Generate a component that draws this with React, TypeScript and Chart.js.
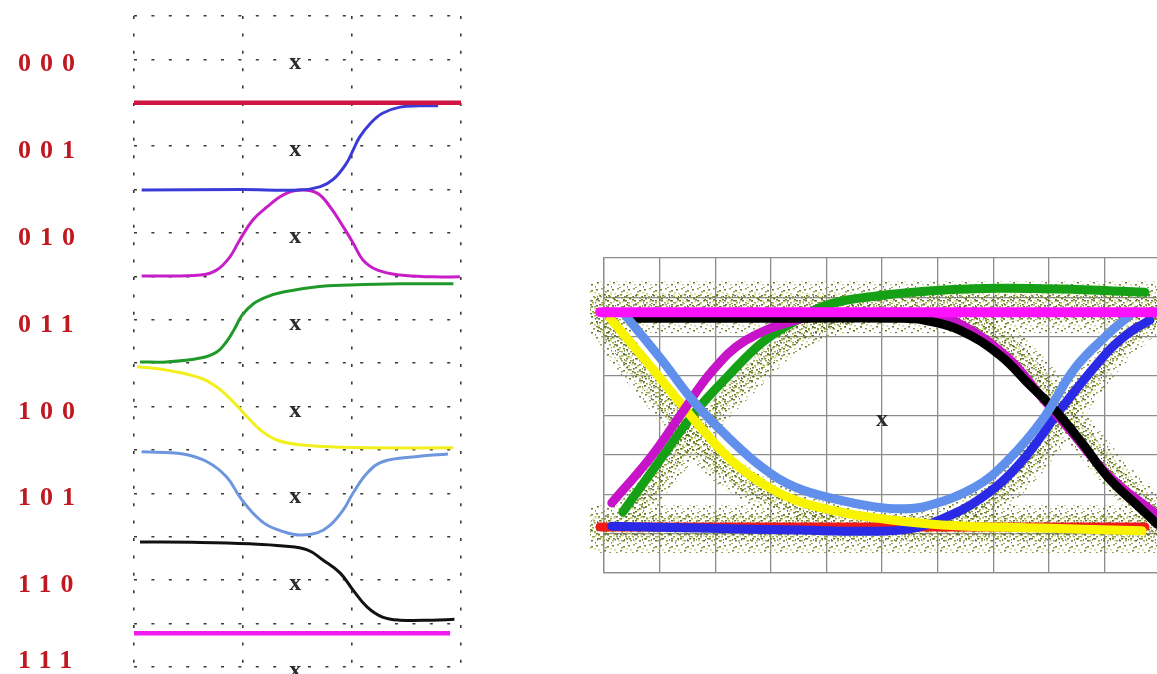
import { useEffect, useRef } from "react";
import { Chart, registerables } from "chart.js";

Chart.register(...registerables);

// ---------- Waveform ladder (left) ----------
// One row per 3-bit pattern; x in unit intervals (0–3), y in half-row grid steps (0 = top, 15 = bottom)
const patterns = ["000", "001", "010", "011", "100", "101", "110", "111"];
const ladderXTicks = [0, 1, 2, 3];
const ladderYTicks = [0, 1, 2, 3, 4, 5, 6, 7, 8, 9, 10, 11, 12, 13, 14, 15];
const ladderMarkX = 1.48;

const wave000X = [0, 3];
const wave000Y = [2.0, 2.0];

const wave001X = [0.07, 0.99, 1.52, 1.71, 1.83, 1.95, 2.01, 2.07, 2.17, 2.28, 2.44, 2.62, 2.79];
const wave001Y = [4.01, 4.0, 4.01, 3.93, 3.76, 3.39, 3.09, 2.79, 2.47, 2.24, 2.1, 2.07, 2.07];

const wave010X = [0.07, 0.61, 0.76, 0.88, 0.97, 1.09, 1.22, 1.37, 1.52, 1.68, 1.8, 1.92, 2.01, 2.1, 2.23, 2.44, 2.74, 2.99];
const wave010Y = [5.99, 5.97, 5.85, 5.55, 5.16, 4.7, 4.4, 4.12, 4.01, 4.08, 4.4, 4.86, 5.23, 5.62, 5.85, 5.97, 6.01, 6.01];

const wave011X = [0.055, 0.3, 0.61, 0.76, 0.85, 0.92, 0.99, 1.09, 1.22, 1.37, 1.68, 1.98, 2.44, 2.93];
const wave011Y = [7.97, 7.97, 7.88, 7.74, 7.5, 7.22, 6.9, 6.64, 6.47, 6.36, 6.24, 6.2, 6.17, 6.17];

const wave100X = [0.03, 0.3, 0.61, 0.76, 0.91, 1.04, 1.16, 1.31, 1.52, 1.83, 2.14, 2.93];
const wave100Y = [8.08, 8.16, 8.34, 8.55, 8.89, 9.24, 9.54, 9.77, 9.88, 9.93, 9.95, 9.95];

const wave101X = [0.07, 0.45, 0.67, 0.85, 0.97, 1.09, 1.22, 1.37, 1.52, 1.68, 1.8, 1.92, 2.01, 2.14, 2.28, 2.6, 2.88];
const wave101Y = [10.04, 10.09, 10.27, 10.62, 11.08, 11.45, 11.73, 11.88, 11.96, 11.91, 11.73, 11.38, 10.99, 10.53, 10.27, 10.15, 10.09];

const wave110X = [0.055, 0.61, 1.06, 1.37, 1.59, 1.73, 1.89, 2.01, 2.14, 2.28, 2.44, 2.74, 2.94];
const wave110Y = [12.12, 12.13, 12.16, 12.21, 12.3, 12.53, 12.83, 13.23, 13.62, 13.85, 13.92, 13.92, 13.9];

const wave111X = [0, 2.9];
const wave111Y = [14.22, 14.22];

// ---------- Eye diagram (right) ----------
// x in grid columns (0–10), y in grid rows (0 = bottom, 8 = top)
const eyeXTicks = [0, 1, 2, 3, 4, 5, 6, 7, 8, 9, 10];
const eyeYTicks = [0, 1, 2, 3, 4, 5, 6, 7, 8];
const eyeMark = { x: 5, y: 3.88 };

const eye000X = [-0.07, 9.73];
const eye000Y = [1.17, 1.17];

const eye001X = [0.14, 1.73, 3.53, 4.78, 5.5, 6.04, 6.76, 7.48, 8.24, 9.06, 9.46, 9.82];
const eye001Y = [1.19, 1.14, 1.09, 1.06, 1.12, 1.35, 1.88, 2.78, 4.21, 5.62, 6.12, 6.42];

const eye010X = [0.14, 0.83, 1.4, 1.94, 2.54, 3.44, 4.06, 5.32, 5.86, 6.37, 7.27, 7.84, 8.38, 9.1, 9.95];
const eye010Y = [1.78, 2.92, 4.06, 5.12, 5.9, 6.42, 6.55, 6.57, 6.52, 6.35, 5.46, 4.52, 3.63, 2.44, 1.47];

const eye011X = [0.34, 1.01, 1.64, 2.23, 2.84, 3.44, 4.03, 4.87, 6.04, 7.12, 8.2, 9.73];
const eye011Y = [1.55, 2.87, 4.09, 5.0, 5.85, 6.4, 6.82, 7.03, 7.18, 7.23, 7.21, 7.13];

const eye100X = [0.11, 0.74, 1.33, 1.8, 2.3, 2.84, 3.44, 4.24, 4.87, 6.08, 7.88, 9.68];
const eye100Y = [6.47, 5.41, 4.39, 3.6, 2.85, 2.28, 1.85, 1.55, 1.4, 1.22, 1.14, 1.07];

const eye101X = [0.38, 1.04, 1.64, 2.23, 2.84, 3.44, 4.24, 4.87, 5.35, 5.8, 6.67, 7.27, 7.88, 8.47, 9.06, 9.46];
const eye101Y = [6.55, 5.41, 4.31, 3.45, 2.69, 2.18, 1.85, 1.68, 1.63, 1.7, 2.18, 2.87, 3.88, 5.2, 6.06, 6.55];

const eye110X = [0.58, 1.73, 3.53, 5.32, 5.77, 6.4, 7.12, 7.66, 8.11, 8.6, 9.06, 9.68, 9.95];
const eye110Y = [6.47, 6.47, 6.47, 6.47, 6.42, 6.17, 5.53, 4.77, 4.14, 3.3, 2.44, 1.6, 1.24];

const eye111X = [-0.07, 9.95];
const eye111Y = [6.62, 6.62];

// Noise envelopes around the high/low rails and the four edges
const noiseHighX = [-0.05, 9.95];
const noiseHighY = [6.75, 6.75];
const noiseLowX = [-0.05, 9.95];
const noiseLowY = [1.12, 1.12];
const noiseFallLX = [0.0, 0.5, 1.1, 1.6, 2.2, 3.0, 4.0];
const noiseFallLY = [6.3, 5.35, 4.3, 3.45, 2.6, 1.95, 1.5];
const noiseRiseLX = [0.5, 1.2, 1.9, 2.6, 3.2, 3.9, 4.6];
const noiseRiseLY = [1.5, 2.8, 4.0, 5.0, 5.8, 6.3, 6.6];
const noiseFallRX = [6.4, 7.0, 7.5, 8.0, 8.4, 8.9, 9.4, 9.95];
const noiseFallRY = [6.5, 6.1, 5.5, 4.7, 3.9, 3.0, 2.2, 1.5];
const noiseRiseRX = [6.4, 7.0, 7.6, 8.1, 8.6, 9.1, 9.6, 9.95];
const noiseRiseRY = [1.4, 1.9, 2.7, 3.6, 4.6, 5.5, 6.2, 6.5];

// Speckle tiles used to texture the noise envelopes: [x, y, colour index]
const speckleColors = ["rgba(90,110,24,0.9)", "rgba(130,144,44,0.8)", "rgba(200,204,100,0.75)"];
const speckleTileA = [[0, 1, 0], [5, 0, 1], [11, 2, 0], [2, 5, 2], [8, 6, 0], [13, 8, 1], [1, 10, 0], [6, 12, 2], [11, 12, 0], [4, 8, 1], [9, 3, 1], [15, 14, 0], [14, 4, 2], [7, 15, 1]];
const speckleTileB = [[1, 1, 0], [5, 3, 1], [0, 6, 0], [6, 7, 2], [3, 0, 2], [8, 2, 0], [3, 8, 1], [7, 5, 0]];

const pts = (xs: number[], ys: number[]) => xs.map((x, i) => ({ x, y: ys[i] }));

function makeSpeckle(dots: number[][], size: number) {
  const c = document.createElement("canvas");
  c.width = size;
  c.height = size;
  const g = c.getContext("2d")!;
  dots.forEach(([x, y, k]) => {
    g.fillStyle = speckleColors[k];
    g.fillRect(x, y, 2, 1.5);
  });
  return g.createPattern(c, "repeat")!;
}

const fixedTicks = (values: number[]) => (scale: any) => {
  scale.ticks = values.map((value) => ({ value }));
};

const ladderDecor = {
  id: "ladderDecor",
  beforeDatasetsDraw(chart: any) {
    const { ctx, scales } = chart;
    ctx.save();
    ctx.font = "bold 24px 'Liberation Serif', serif";
    ctx.textAlign = "center";
    ctx.textBaseline = "alphabetic";
    ctx.fillStyle = "#2b2b2b";
    patterns.forEach((_, r) => {
      const px = scales.x.getPixelForValue(ladderMarkX);
      const py = scales.y.getPixelForValue(1 + 2 * r);
      ctx.fillText("x", px, py + 10);
    });
    ctx.restore();
  },
  afterDraw(chart: any) {
    const { ctx, scales } = chart;
    ctx.save();
    ctx.font = "bold 26px 'Liberation Serif', serif";
    (ctx as any).letterSpacing = "9px";
    ctx.textAlign = "left";
    ctx.textBaseline = "alphabetic";
    ctx.fillStyle = "#c01820";
    patterns.forEach((label, r) => {
      const py = scales.y.getPixelForValue(1 + 2 * r);
      ctx.fillText(label, 18, Math.min(py + 12, chart.height - 6));
    });
    ctx.restore();
  },
};

const eyeDecor = {
  id: "eyeDecor",
  beforeDatasetsDraw(chart: any) {
    const { ctx, scales } = chart;
    ctx.save();
    ctx.font = "bold 24px 'Liberation Serif', serif";
    ctx.textAlign = "center";
    ctx.textBaseline = "alphabetic";
    ctx.fillStyle = "#2b2b2b";
    ctx.fillText("x", scales.x.getPixelForValue(eyeMark.x), scales.y.getPixelForValue(eyeMark.y) + 6);
    ctx.restore();
  },
};

const ladderLine = (xs: number[], ys: number[], color: string, width: number) => ({
  data: pts(xs, ys),
  borderColor: color,
  borderWidth: width,
  pointRadius: 0,
  fill: false,
  tension: 0.4,
  clip: 10,
});

const eyeLine = (xs: number[], ys: number[], color: any, width: number, order: number) => ({
  data: pts(xs, ys),
  borderColor: color,
  borderWidth: width,
  pointRadius: 0,
  fill: false,
  tension: 0.4,
  borderCapStyle: "round" as const,
  clip: 14,
  order,
});

export default function App() {
  const leftRef = useRef<HTMLCanvasElement>(null);
  const rightRef = useRef<HTMLCanvasElement>(null);

  useEffect(() => {
    const speckA = makeSpeckle(speckleTileA, 16);
    const speckB = makeSpeckle(speckleTileB, 9);

    const left = new Chart(leftRef.current!, {
      type: "line",
      data: {
        datasets: [
          ladderLine(wave000X, wave000Y, "#cf1541", 4.5),
          ladderLine(wave001X, wave001Y, "#3a3ad8", 3),
          ladderLine(wave010X, wave010Y, "#c81ec8", 3),
          ladderLine(wave011X, wave011Y, "#1f9a2a", 3),
          ladderLine(wave100X, wave100Y, "#f2ef1e", 3),
          ladderLine(wave101X, wave101Y, "#6e96de", 3),
          ladderLine(wave110X, wave110Y, "#111111", 3),
          ladderLine(wave111X, wave111Y, "#f01cf0", 4.5),
        ],
      },
      options: {
        responsive: false,
        animation: false,
        layout: { padding: { left: 134, right: 19, top: 16, bottom: 7 } },
        plugins: { legend: { display: false }, tooltip: { enabled: false } },
        scales: {
          x: {
            type: "linear",
            min: 0,
            max: 3,
            afterBuildTicks: fixedTicks(ladderXTicks),
            ticks: { display: false },
            grid: { color: "#3a3a3a", lineWidth: 1.6, drawTicks: false },
            border: { display: false, dash: [3, 14.4] },
          },
          y: {
            type: "linear",
            min: 0,
            max: 15,
            reverse: true,
            afterBuildTicks: fixedTicks(ladderYTicks),
            ticks: { display: false },
            grid: { color: "#3a3a3a", lineWidth: 1.6, drawTicks: false },
            border: { display: false, dash: [3, 14.4] },
          },
        },
      },
      plugins: [ladderDecor],
    });

    const right = new Chart(rightRef.current!, {
      type: "line",
      data: {
        datasets: [
          eyeLine(eye111X, eye111Y, "#ff10ff", 10, 1),
          eyeLine(eye101X, eye101Y, "#6090ec", 9, 2),
          eyeLine(eye110X, eye110Y, "#000000", 9, 3),
          eyeLine(eye010X, eye010Y, "#c814c8", 9, 4),
          eyeLine(eye100X, eye100Y, "#f8f400", 9, 5),
          eyeLine(eye011X, eye011Y, "#16a016", 9, 6),
          eyeLine(eye001X, eye001Y, "#2a2ae6", 9, 7),
          eyeLine(eye000X, eye000Y, "#f01818", 9, 8),
          eyeLine(noiseHighX, noiseHighY, speckB, 26, 20),
          eyeLine(noiseLowX, noiseLowY, speckB, 26, 20),
          eyeLine(noiseFallLX, noiseFallLY, speckB, 16, 20),
          eyeLine(noiseRiseLX, noiseRiseLY, speckB, 16, 20),
          eyeLine(noiseFallRX, noiseFallRY, speckB, 16, 20),
          eyeLine(noiseRiseRX, noiseRiseRY, speckB, 16, 20),
          eyeLine(noiseHighX, noiseHighY, speckA, 52, 30),
          eyeLine(noiseLowX, noiseLowY, speckA, 48, 30),
          eyeLine(noiseFallLX, noiseFallLY, speckA, 32, 30),
          eyeLine(noiseRiseLX, noiseRiseLY, speckA, 32, 30),
          eyeLine(noiseFallRX, noiseFallRY, speckA, 32, 30),
          eyeLine(noiseRiseRX, noiseRiseRY, speckA, 32, 30),
        ],
      },
      options: {
        responsive: false,
        animation: false,
        layout: { padding: { left: 24, right: 20, top: 18, bottom: 27 } },
        plugins: { legend: { display: false }, tooltip: { enabled: false } },
        scales: {
          x: {
            type: "linear",
            min: 0,
            max: 10,
            afterBuildTicks: fixedTicks(eyeXTicks),
            ticks: { display: false },
            grid: { color: "#8c8c8c", lineWidth: 1.3, drawTicks: false },
            border: { color: "#8c8c8c", width: 1.3 },
          },
          y: {
            type: "linear",
            min: 0,
            max: 8,
            afterBuildTicks: fixedTicks(eyeYTicks),
            ticks: { display: false },
            grid: { color: "#8c8c8c", lineWidth: 1.3, drawTicks: false },
            border: { color: "#8c8c8c", width: 1.3 },
          },
        },
      },
      plugins: [eyeDecor],
    });

    return () => {
      left.destroy();
      right.destroy();
    };
  }, []);

  return (
    <div
      style={{
        position: "fixed",
        left: 0,
        top: 0,
        width: 1157,
        height: 674,
        overflow: "hidden",
        background: "#ffffff",
      }}
    >
      <canvas ref={leftRef} width={480} height={674} style={{ position: "absolute", left: 0, top: 0 }} />
      <canvas ref={rightRef} width={600} height={360} style={{ position: "absolute", left: 580, top: 240 }} />
    </div>
  );
}
